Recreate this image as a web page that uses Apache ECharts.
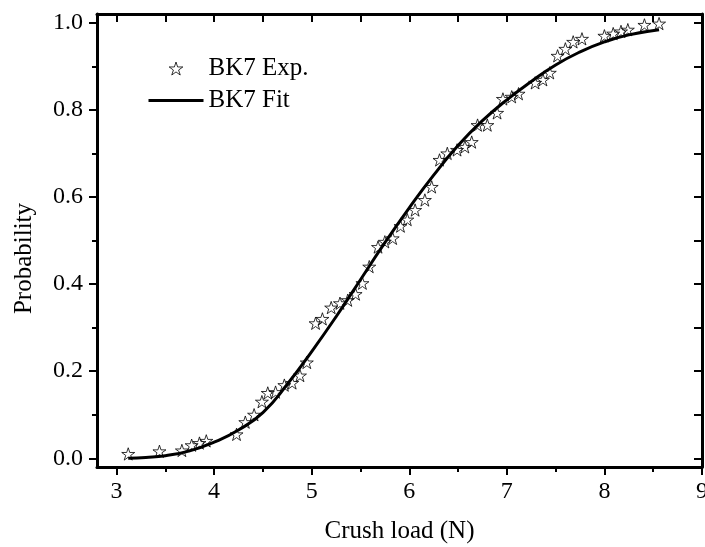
<!DOCTYPE html>
<html>
<head>
<meta charset="utf-8">
<script src="https://cdn.jsdelivr.net/npm/echarts@6/dist/echarts.min.js"></script>
<style>
  html, body { margin: 0; padding: 0; background: #fff; }
  #chart { width: 705px; height: 547px; }
</style>
</head>
<body>
<div id="chart"></div>
<script>
// measured points (BK7 Exp.)
var expX = [3.12, 3.44, 3.67, 3.77, 3.85, 3.92, 4.23, 4.32, 4.41, 4.49, 4.55, 4.63, 4.72, 4.80, 4.88, 4.95,
  5.04, 5.11, 5.20, 5.29, 5.37, 5.45, 5.52, 5.59, 5.68, 5.75, 5.83, 5.91, 5.98, 6.06, 6.16, 6.23,
  6.31, 6.39, 6.49, 6.57, 6.64, 6.70, 6.80, 6.90, 6.96, 7.05, 7.12, 7.29, 7.37, 7.44, 7.52, 7.60,
  7.68, 7.77, 8.00, 8.09, 8.17, 8.24, 8.41, 8.56];
var expY = [0.010, 0.016, 0.018, 0.030, 0.035, 0.040, 0.055, 0.083, 0.100, 0.130, 0.150, 0.152, 0.168, 0.173, 0.190, 0.220,
  0.310, 0.320, 0.346, 0.356, 0.363, 0.377, 0.402, 0.440, 0.485, 0.497, 0.505, 0.533, 0.548, 0.570, 0.593, 0.623,
  0.685, 0.700, 0.708, 0.715, 0.726, 0.765, 0.765, 0.793, 0.825, 0.830, 0.837, 0.862, 0.869, 0.885, 0.924, 0.940,
  0.956, 0.963, 0.970, 0.975, 0.980, 0.984, 0.995, 0.998];

// fit curve (BK7 Fit)
var fitX = [3.12, 3.3, 3.5, 3.75, 4.0, 4.25, 4.5, 4.75, 5.0, 5.25, 5.5, 5.75, 6.0, 6.25, 6.5, 6.75, 7.0, 7.25, 7.5, 7.75, 8.0, 8.25, 8.56];
var fitY = [0.0, 0.002, 0.006, 0.017, 0.037, 0.065, 0.105, 0.17, 0.245, 0.325, 0.41, 0.495, 0.575, 0.65, 0.718, 0.775, 0.823, 0.865, 0.903, 0.933, 0.956, 0.972, 0.984];

var xMajor = [3, 4, 5, 6, 7, 8, 9];
var xMinor = [3.5, 4.5, 5.5, 6.5, 7.5, 8.5];
var xTop = [3, 3.5, 4, 4.5, 5, 5.5, 6, 6.5, 7, 7.5, 8, 8.5];
var yMajor = [0, 0.2, 0.4, 0.6, 0.8, 1.0];
var yMinor = [0.1, 0.3, 0.5, 0.7, 0.9];
var yRight = [0, 0.1, 0.2, 0.3, 0.4, 0.5, 0.6, 0.7, 0.8, 0.9, 1.0];

var font = '"Liberation Serif", "DejaVu Serif", serif';
var star = 'path://M100 0 L122.45 69.1 L195.1 69.1 L136.3 111.8 L158.8 180.9 L100 138.2 L41.2 180.9 L63.7 111.8 L4.9 69.1 L77.55 69.1 Z';

function pairs(xs, ys) {
  return xs.map(function (x, i) { return [x, ys[i]]; });
}

function xAx(pos, ticks, len, inside, extra) {
  return Object.assign({
    type: 'value', position: pos, min: 2.8, max: 9,
    axisLine: { show: false, onZero: false },
    axisTick: { show: true, inside: inside, length: len, lineStyle: { color: '#000', width: 2 }, customValues: ticks },
    axisLabel: { show: false },
    splitLine: { show: false }
  }, extra || {});
}
function yAx(pos, ticks, len, inside, extra) {
  return Object.assign({
    type: 'value', position: pos, min: -0.02, max: 1.02,
    axisLine: { show: false, onZero: false },
    axisTick: { show: true, inside: inside, length: len, lineStyle: { color: '#000', width: 2 }, customValues: ticks },
    axisLabel: { show: false },
    splitLine: { show: false }
  }, extra || {});
}

var myChart = echarts.init(document.getElementById('chart'));
myChart.setOption({
  animation: false,
  backgroundColor: '#fff',
  grid: { left: 97, right: 3, top: 14, bottom: 80, containLabel: false, outerBoundsMode: 'none' },
  legend: {
    orient: 'vertical',
    left: 142,
    top: 51,
    itemWidth: 55,
    itemHeight: 13,
    itemGap: 7,
    textStyle: { fontFamily: font, fontSize: 25, color: '#000' },
    data: [{
      name: 'BK7 Exp.',
      itemStyle: { color: 'rgba(255,255,255,0)', borderColor: '#000', borderWidth: 1 }
    }, {
      name: 'BK7 Fit',
      lineStyle: { color: '#000', width: 3 }
    }]
  },
  xAxis: [
    xAx('bottom', xMajor, 8, false, {
      axisLine: { show: true, onZero: false, lineStyle: { color: '#000', width: 3 } },
      axisLabel: { show: true, customValues: xMajor, margin: 13, color: '#000', fontFamily: font, fontSize: 24 },
      name: 'Crush load (N)',
      nameLocation: 'middle',
      nameGap: 52,
      nameTextStyle: { fontFamily: font, fontSize: 25, color: '#000' }
    }),
    xAx('bottom', xMinor, 5, false),
    xAx('top', xTop, 8, true, {
      axisLine: { show: true, onZero: false, lineStyle: { color: '#000', width: 3 } }
    })
  ],
  yAxis: [
    yAx('left', yMajor, 8, false, {
      axisLine: { show: true, onZero: false, lineStyle: { color: '#000', width: 3 } },
      axisLabel: {
        show: true, customValues: yMajor, margin: 14, color: '#000', fontFamily: font, fontSize: 24,
        formatter: function (v) { return v.toFixed(1); }
      },
      name: 'Probability',
      nameLocation: 'middle',
      nameGap: 60,
      nameTextStyle: { fontFamily: font, fontSize: 25, color: '#000', padding: [0, 36, 0, 0] }
    }),
    yAx('left', yMinor, 5, false),
    yAx('right', yRight, 8, true, {
      axisLine: { show: true, onZero: false, lineStyle: { color: '#000', width: 3 } }
    })
  ],
  series: [{
    name: 'BK7 Exp.',
    type: 'scatter',
    symbol: star,
    symbolSize: 13,
    symbolKeepAspect: true,
    itemStyle: { color: 'rgba(255,255,255,0)', borderColor: '#000', borderWidth: 1 },
    data: pairs(expX, expY)
  }, {
    name: 'BK7 Fit',
    type: 'line',
    smooth: true,
    showSymbol: false,
    z: 3,
    lineStyle: { color: '#000', width: 3 },
    // hides the dot in the legend icon, the line itself has no symbols
    itemStyle: { color: '#000', opacity: 0 },
    data: pairs(fitX, fitY)
  }]
});
window.addEventListener('resize', function () {
  myChart.resize();
});
</script>
</body>
</html>
